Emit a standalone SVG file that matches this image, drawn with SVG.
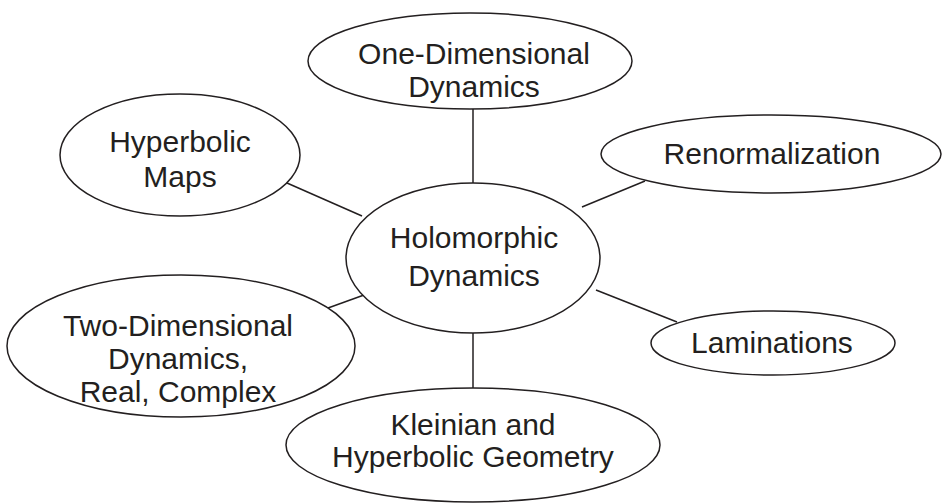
<svg xmlns="http://www.w3.org/2000/svg" width="942" height="503" viewBox="0 0 942 503">
<style>
.n ellipse{fill:#fff;stroke:#231f20;stroke-width:1.5}
.n text{font-family:"Liberation Sans",Arial,sans-serif;font-size:30px;fill:#231f20;text-anchor:middle}
.c line{stroke:#231f20;stroke-width:1.5}
</style>
<rect width="942" height="503" fill="#fff"/>
<g class="c" id="connectors">
<line x1="473" y1="107" x2="473" y2="184"/>
<line x1="287" y1="183" x2="362" y2="216"/>
<line x1="645" y1="181" x2="582" y2="207"/>
<line x1="364" y1="295" x2="328" y2="308"/>
<line x1="596" y1="290" x2="677" y2="322"/>
<line x1="473" y1="332" x2="473" y2="389"/>
</g>
<g class="n" id="one-dim">
<ellipse cx="470" cy="61" rx="162" ry="48"/>
<text x="474" y="64">One-Dimensional</text>
<text x="474" y="97">Dynamics</text>
</g>
<g class="n" id="hyperbolic-maps">
<ellipse cx="180" cy="155" rx="120" ry="61"/>
<text x="180" y="152">Hyperbolic</text>
<text x="180" y="187">Maps</text>
</g>
<g class="n" id="renormalization">
<ellipse cx="771" cy="154" rx="170" ry="39"/>
<text x="772" y="164">Renormalization</text>
</g>
<g class="n" id="holomorphic">
<ellipse cx="473" cy="258" rx="127" ry="75"/>
<text x="474" y="248">Holomorphic</text>
<text x="474" y="286">Dynamics</text>
</g>
<g class="n" id="two-dim">
<ellipse cx="181" cy="346" rx="174" ry="71"/>
<text x="178" y="336">Two-Dimensional</text>
<text x="178" y="369">Dynamics,</text>
<text x="178" y="402">Real, Complex</text>
</g>
<g class="n" id="laminations">
<ellipse cx="773" cy="343" rx="122" ry="32"/>
<text x="772" y="353">Laminations</text>
</g>
<g class="n" id="kleinian">
<ellipse cx="473" cy="445" rx="187" ry="57"/>
<text x="473" y="435">Kleinian and</text>
<text x="473" y="467">Hyperbolic Geometry</text>
</g>
</svg>
